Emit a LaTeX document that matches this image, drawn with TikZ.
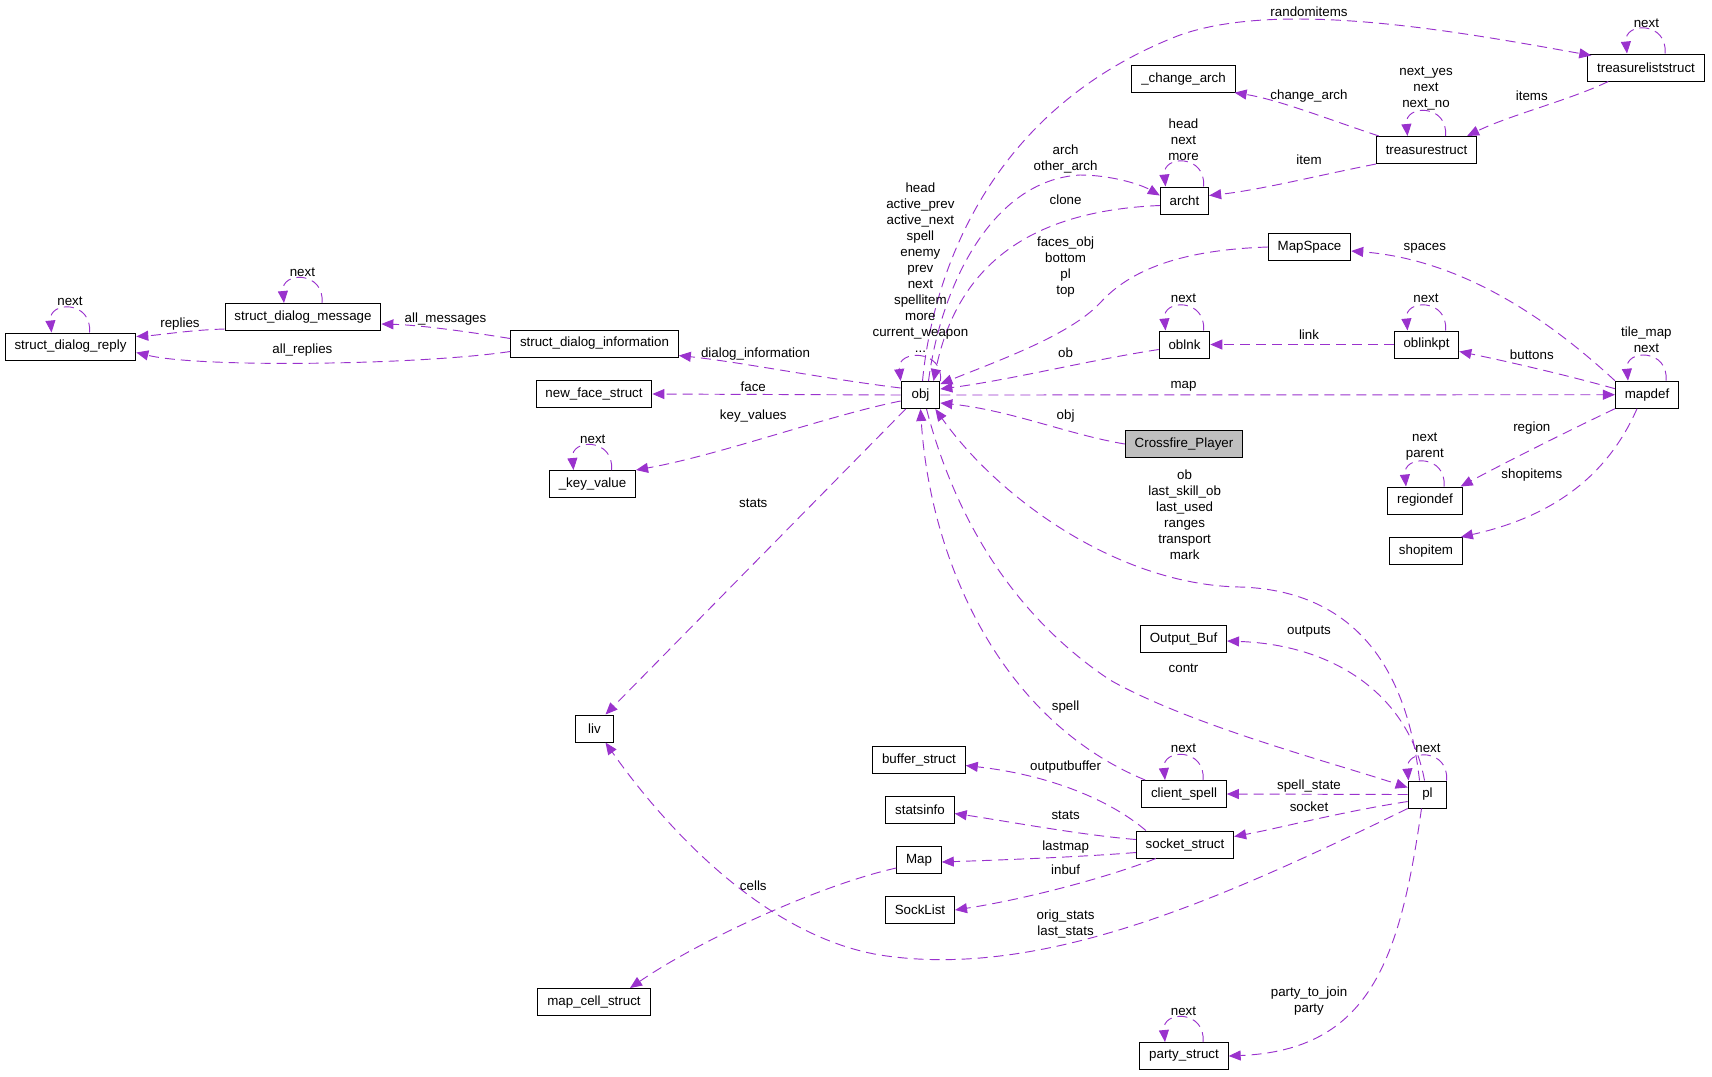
\documentclass[tikz,border=0pt]{standalone}
\usepackage{fontspec}
\setmainfont{Liberation Sans}
\usetikzlibrary{arrows.meta,calc}

\definecolor{orchid}{HTML}{9A32CD}
\definecolor{hlgray}{HTML}{BFBFBF}

\begin{document}
\begin{tikzpicture}[
  x=0.75pt, y=-0.75pt,
  font=\fontsize{10}{12}\selectfont,
  >={Triangle[length=9pt,width=7.5pt]},
  box/.style={draw=black, line width=0.75pt, fill=white, inner xsep=7pt,
              inner ysep=0pt, minimum height=20.25pt, minimum width=29pt},
  hl/.style={box, fill=hlgray},
  arr/.style={->, orchid, line width=0.7pt, dash pattern=on 7.5pt off 4.5pt},
  elbl/.style={inner sep=0pt, align=center},
]
\useasboundingbox (0,0) rectangle (1712,1076);

%% ---------- nodes ----------
\node[box] (reply)    at (70.5,346.5) {struct\_dialog\_reply};
\node[box] (msg)      at (303,317)    {struct\_dialog\_message};
\node[box] (info)     at (594.5,343.5) {struct\_dialog\_information};
\node[box] (newface)  at (594,394)    {new\_face\_struct};
\node[box] (kv)       at (592.5,484)  {\_key\_value};
\node[box] (obj)      at (920.5,395)  {obj};
\node[hl]  (cp)       at (1184,444)   {Crossfire\_Player};
\node[box] (archt)    at (1184.5,200.5) {archt};
\node[box] (ca)       at (1183.5,78.6) {\_change\_arch};
\node[box] (ts)       at (1426.5,150) {treasurestruct};
\node[box] (tls)      at (1646,67.5)  {treasureliststruct};
\node[box] (ms)       at (1309.5,247) {MapSpace};
\node[box] (oblnk)    at (1184.5,344.5) {oblnk};
\node[box] (oblinkpt) at (1426.5,344.5) {oblinkpt};
\node[box] (mapdef)   at (1647,394.7) {mapdef};
\node[box] (rd)       at (1425,500.5) {regiondef};
\node[box] (si)       at (1426,551)   {shopitem};
\node[box] (outbuf)   at (1183.5,639) {Output\_Buf};
\node[box] (liv)      at (594.5,728.5) {liv};
\node[box] (bs)       at (919,759.5)  {buffer\_struct};
\node[box] (cs)       at (1184,794)   {client\_spell};
\node[box] (pl)       at (1427.5,794.5) {pl};
\node[box] (sinfo)    at (920,809.5)  {statsinfo};
\node[box] (ss)       at (1185,844.5) {socket\_struct};
\node[box] (map)      at (919,860)    {Map};
\node[box] (sl)       at (920,910)    {SockList};
\node[box] (mcs)      at (594,1002)   {map\_cell\_struct};
\node[box] (party)    at (1184,1056)  {party\_struct};

%% ---------- self references ----------
\foreach \nd in {reply,msg,kv,archt,ts,tls,oblnk,oblinkpt,mapdef,rd,cs,pl,party}
  \draw[arr] ($(\nd.north)+(19,0)$) .. controls +(3,-32) and +(-3,-32) .. ($(\nd.north)+(-19,0)$);
\draw[arr] (obj.north east) .. controls +(4,-32) and +(-4,-32) .. (obj.north west);

%% ---------- dialog side ----------
\draw[arr] ($(msg.south west)+(0,-2)$) .. controls (190,330) and (160,335) .. ($(reply.north east)+(0,4)$);
\draw[arr] ($(info.west)+(0,-5)$) .. controls (470,332) and (420,325) .. ($(msg.east)+(0,7)$);
\draw[arr] ($(info.west)+(0,8)$) .. controls (420,365) and (200,368) .. ($(reply.east)+(0,6)$);
\draw[arr] ($(obj.west)+(0,-7)$) .. controls (820,378) and (740,362) .. ($(info.south east)+(0,-2)$);
\draw[arr] (obj.west) -- (newface.east);
\draw[arr] ($(obj.west)+(0,6)$) .. controls (830,415) and (720,455) .. (kv.north east);
\draw[arr] ($(obj.south west)+(5,0)$) -- ($(liv.north)+(11,0)$);

%% ---------- above obj ----------
\draw[arr] ($(obj.north)+(2,0)$) .. controls (932,280) and (985,110) .. (1180,35)
  .. controls (1280,0) and (1450,30) .. ($(tls.north west)+(4,2)$);
\draw[arr] ($(obj.north)+(8,0)$) .. controls (940,290) and (990,180) .. (1080,175)
  .. controls (1110,175) and (1140,184) .. ($(archt.west)+(0,-5)$);
\draw[arr] ($(archt.west)+(0,5)$) .. controls (1050,210) and (960,250) .. ($(obj.north)+(13,0)$);
\draw[arr] (ts.south west) .. controls (1320,175) and (1260,190) .. ($(archt.east)+(0,-5)$);
\draw[arr] ($(ts.north west)+(3,0)$) .. controls (1330,120) and (1280,100) .. ($(ca.south east)+(-1,0)$);
\draw[arr] ($(tls.south west)+(21,0)$) .. controls (1570,100) and (1510,115) .. ($(ts.north east)+(-10,0)$);

%% ---------- right of obj ----------
\draw[arr] (ms.west) .. controls (1180,250) and (1130,270) .. (1100,303)
  .. controls (1070,335) and (1000,360) .. ($(obj.north east)+(0,3)$);
\draw[arr] ($(oblnk.west)+(0,5)$) .. controls (1090,360) and (1010,380) .. ($(obj.east)+(0,-6)$);
\draw[arr] (obj.east) -- (mapdef.west);
\draw[arr] (cp.west) .. controls (1070,435) and (1010,410) .. ($(obj.east)+(0,8)$);
\draw[arr] (mapdef.north west) .. controls (1560,330) and (1470,260) .. ($(ms.east)+(0,4)$);
\draw[arr] ($(mapdef.west)+(0,-6)$) .. controls (1570,376) and (1510,362) .. ($(oblinkpt.east)+(0,7)$);
\draw[arr] (oblinkpt.west) -- (oblnk.east);
\draw[arr] (mapdef.south west) .. controls (1570,430) and (1510,460) .. ($(rd.north east)+(-2,0)$);
\draw[arr] ($(mapdef.south)+(-10,0)$) .. controls (1610,470) and (1560,515) .. ($(si.north east)+(-2,0)$);

%% ---------- pl ----------
\draw[arr] ($(pl.north)+(-8,0)$) .. controls (1405,650) and (1340,590) .. (1240,587)
  .. controls (1120,585) and (1000,500) .. ($(obj.south east)+(-5,0)$);
\draw[arr] ($(obj.south)+(6,0)$) .. controls (945,480) and (990,600) .. (1110,680)
  .. controls (1190,725) and (1330,762) .. ($(pl.west)+(0,-7)$);
\draw[arr] ($(cs.north west)+(4,0)$) .. controls (1000,720) and (930,560) .. (obj.south);
\draw[arr] ($(pl.north)+(-3,0)$) .. controls (1410,700) and (1340,645) .. ($(outbuf.east)+(0,2)$);
\draw[arr] (pl.west) -- (cs.east);
\draw[arr] ($(pl.west)+(0,7)$) .. controls (1340,812) and (1280,828) .. ($(ss.east)+(0,-8)$);
\draw[arr] (pl.south west) .. controls (1220,900) and (1040,980) .. (880,955)
  .. controls (760,935) and (660,820) .. ($(liv.south)+(11,0)$);
\draw[arr] ($(pl.south)+(-6,0)$) .. controls (1400,960) and (1370,1050) .. (party.east);

%% ---------- socket_struct ----------
\draw[arr] ($(ss.north west)+(10,0)$) .. controls (1110,800) and (1050,775) .. ($(bs.east)+(0,6)$);
\draw[arr] ($(ss.west)+(0,-5)$) .. controls (1080,835) and (1000,820) .. ($(sinfo.east)+(0,4)$);
\draw[arr] ($(ss.west)+(0,8)$) .. controls (1080,857) and (1000,860) .. ($(map.east)+(0,2)$);
\draw[arr] ($(ss.south west)+(20,0)$) .. controls (1100,880) and (1020,900) .. (sl.east);
\draw[arr] ($(map.west)+(0,8)$) .. controls (820,885) and (700,940) .. ($(mcs.north)+(36,0)$);

%% ---------- labels ----------
\node[elbl] (l-reply)    at (70,301)     {next};
\node[elbl] (l-msg)      at (302.4,272)  {next};
\node[elbl] (l-replies)  at (180,324)    {replies};
\node[elbl] (l-allmsg)   at (445.5,319)  {all\_messages};
\node[elbl] (l-allrep)   at (302.4,350.5) {all\_replies};
\node[elbl] (l-dialog)   at (755.5,353.7) {dialog\_information};
\node[elbl] (l-face)     at (753.3,386.5) {face};
\node[elbl] (l-keyval)   at (753.3,416)  {key\_values};
\node[elbl] (l-kv)       at (592.8,439)  {next};
\node[elbl] (l-stats)    at (753.3,503.3) {stats};
\node[elbl] (l-obj)      at (920.4,268)  {head\\active\_prev\\active\_next\\spell\\enemy\\prev\\next\\spellitem\\more\\current\_weapon\\...};
\node[elbl] (l-random)   at (1309,12)    {randomitems};
\node[elbl] (l-tls)      at (1646.4,23)  {next};
\node[elbl] (l-ts)       at (1426,88.4)  {next\_yes\\next\\next\_no};
\node[elbl] (l-change)   at (1309,96)    {change\_arch};
\node[elbl] (l-items)    at (1531.8,96)  {items};
\node[elbl] (l-archt)    at (1183.5,139.7) {head\\next\\more};
\node[elbl] (l-item)     at (1309,159.4) {item};
\node[elbl] (l-arch)     at (1065.6,159.4) {arch\\other\_arch};
\node[elbl] (l-clone)    at (1065.6,199.8) {clone};
\node[elbl] (l-faces)    at (1065.6,267.5) {faces\_obj\\bottom\\pl\\top};
\node[elbl] (l-spaces)   at (1424.8,247.8) {spaces};
\node[elbl] (l-oblnk)    at (1183.5,298) {next};
\node[elbl] (l-oblinkpt) at (1426,298)   {next};
\node[elbl] (l-mapdef)   at (1646.4,340) {tile\_map\\next};
\node[elbl] (l-ob)       at (1065.6,352.6) {ob};
\node[elbl] (l-link)     at (1309,335)   {link};
\node[elbl] (l-buttons)  at (1531.8,354.8) {buttons};
\node[elbl] (l-map)      at (1183.5,386.5) {map};
\node[elbl] (l-cp)       at (1065.6,416) {obj};
\node[elbl] (l-region)   at (1531.8,428) {region};
\node[elbl] (l-rd)       at (1424.8,447) {next\\parent};
\node[elbl] (l-shop)     at (1531.8,475) {shopitems};
\node[elbl] (l-plob)     at (1184.6,514.3) {ob\\last\_skill\_ob\\last\_used\\ranges\\transport\\mark};
\node[elbl] (l-outputs)  at (1309,632)   {outputs};
\node[elbl] (l-contr)    at (1183.5,668) {contr};
\node[elbl] (l-spell)    at (1065.6,707.5) {spell};
\node[elbl] (l-pl)       at (1428,748)   {next};
\node[elbl] (l-cs)       at (1183.5,748) {next};
\node[elbl] (l-outbuf)   at (1065.6,767.5) {outputbuffer};
\node[elbl] (l-sstate)   at (1309,786)   {spell\_state};
\node[elbl] (l-socket)   at (1309,807)   {socket};
\node[elbl] (l-sstats)   at (1065.6,815.6) {stats};
\node[elbl] (l-lastmap)  at (1065.6,847) {lastmap};
\node[elbl] (l-inbuf)    at (1065.6,870) {inbuf};
\node[elbl] (l-cells)    at (753.3,885.5) {cells};
\node[elbl] (l-orig)     at (1065.6,924) {orig\_stats\\last\_stats};
\node[elbl] (l-party)    at (1309,1000.6) {party\_to\_join\\party};
\node[elbl] (l-pnext)    at (1183.5,1011) {next};

\end{tikzpicture}
\end{document}
